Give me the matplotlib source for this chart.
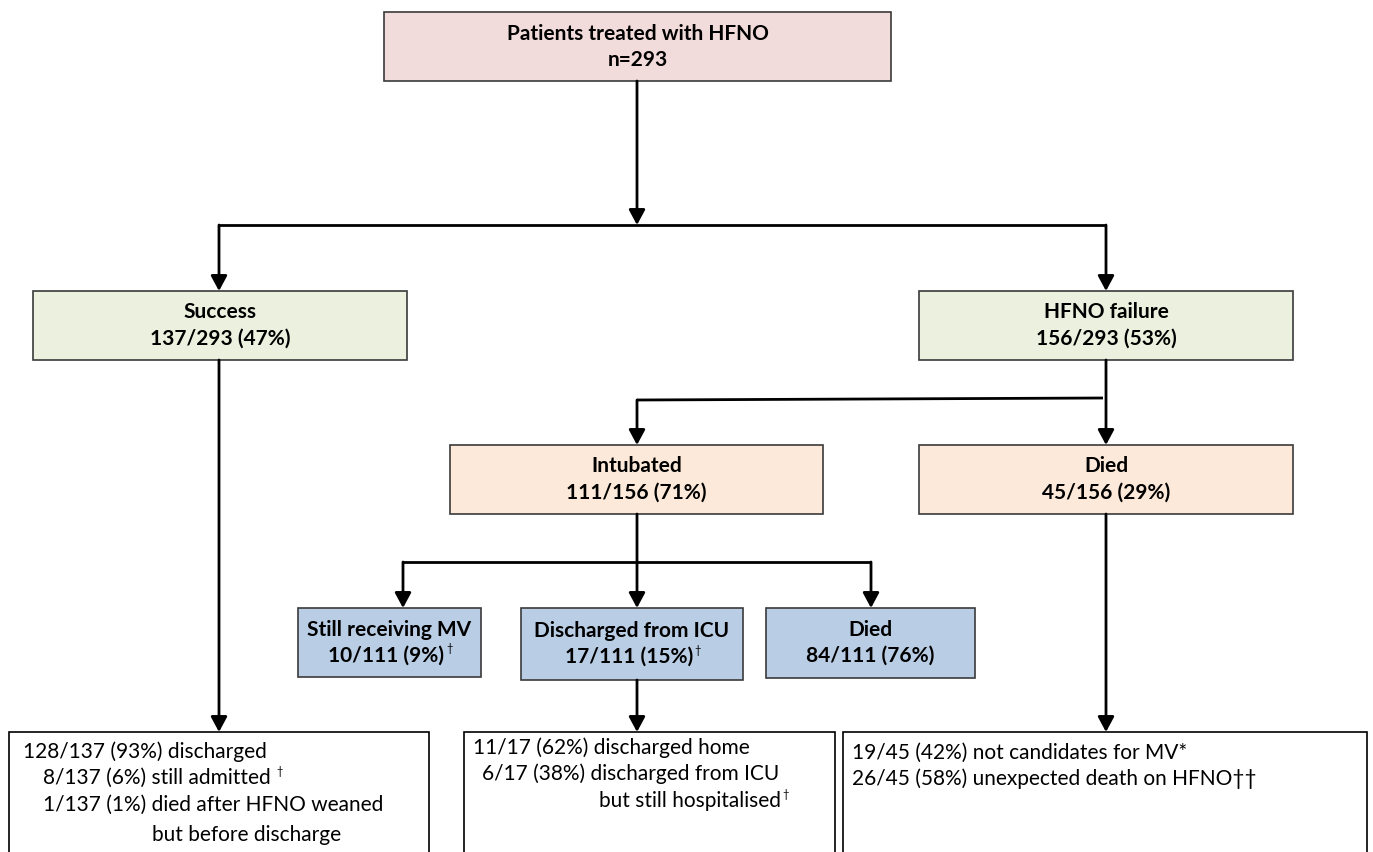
import matplotlib.pyplot as plt
from matplotlib.patches import Rectangle

plt.rcParams['font.family'] = ['Lato', 'DejaVu Sans']

# Data: flowchart node texts
node_titles = ["Patients treated with HFNO", "Success", "HFNO failure", "Intubated", "Died",
               "Still receiving MV", "Discharged from ICU", "Died"]
node_counts = ["n=293", "137/293 (47%)", "156/293 (53%)", "111/156 (71%)", "45/156 (29%)",
               "10/111 (9%)", "17/111 (15%)", "84/111 (76%)"]
node_dagger = [False, False, False, False, False, True, True, False]

success_lines = ["128/137 (93%) discharged", "8/137 (6%) still admitted",
                 "1/137 (1%) died after HFNO weaned", "but before discharge"]
success_dagger = [False, True, False, False]
icu_lines = ["11/17 (62%) discharged home", "6/17 (38%) discharged from ICU",
             "but still hospitalised"]
icu_dagger = [False, False, True]
died_lines = ["19/45 (42%) not candidates for MV*", "26/45 (58%) unexpected death on HFNO\u2020\u2020"]

# Layout (pixel coordinates, y downwards)
W, H = 1373, 852
boxes = [(384, 12, 891, 81), (33, 291, 407, 360), (919, 291, 1293, 360),
         (450, 445, 823, 514), (919, 445, 1293, 514),
         (298, 608, 481, 677), (521, 608, 743, 680), (766, 608, 975, 678)]
fills = ["#F2DCDB", "#EBF1DE", "#EBF1DE", "#FDE9D9", "#FDE9D9",
         "#B9CDE5", "#B9CDE5", "#B9CDE5"]

fig = plt.figure(figsize=(W / 100, H / 100), dpi=100)
ax = fig.add_axes([0, 0, 1, 1])
ax.set_xlim(0, W)
ax.set_ylim(H, 0)
ax.axis("off")

for (x0, y0, x1, y1), fc, title, count, dag in zip(boxes, fills, node_titles, node_counts, node_dagger):
    ax.add_patch(Rectangle((x0, y0), x1 - x0, y1 - y0, facecolor=fc, edgecolor="#3a3a3a", lw=1.2))
    cx, cy = (x0 + x1) / 2, (y0 + y1) / 2
    ax.text(cx, cy - 13, title, ha="center", va="center", fontsize=15, fontweight="bold")
    t = ax.text(cx - (3 if dag else 0), cy + 13, count, ha="center", va="center",
                fontsize=15, fontweight="bold")
    if dag:
        ax.annotate("\u2020", xy=(1, 0.55), xycoords=t, xytext=(1, 0), textcoords="offset points",
                    fontsize=8, va="bottom", ha="left")

# Bottom outcome boxes
bottom = [(9, 732, 429, 870), (464, 732, 835, 870), (843, 732, 1367, 870)]
for x0, y0, x1, y1 in bottom:
    ax.add_patch(Rectangle((x0, y0), x1 - x0, y1 - y0, facecolor="white", edgecolor="black", lw=1.2))


def write_lines(lines, xs, ys, daggers):
    for s, x, y, d in zip(lines, xs, ys, daggers):
        t = ax.text(x, y, s, ha="left", va="center", fontsize=15)
        if d:
            ax.annotate("\u2020", xy=(1, 0.55), xycoords=t, xytext=(4 if s.endswith("admitted") else 1, 0),
                        textcoords="offset points", fontsize=8, va="bottom", ha="left")


write_lines(success_lines, [23, 43, 43, 152], [752, 778, 805, 835], success_dagger)
write_lines(icu_lines, [473, 482, 599], [748, 774, 801], icu_dagger)
write_lines(died_lines, [852, 852], [753, 779], [False, False])


# Connectors
def line(xs, ys):
    ax.plot(xs, ys, color="black", lw=2, solid_capstyle="butt", solid_joinstyle="miter")


def arrow(x, y0, y1):
    ax.annotate("", xy=(x, y1), xytext=(x, y0),
                arrowprops=dict(arrowstyle="-|>,head_length=0.65,head_width=0.35", mutation_scale=14,
                                lw=2, color="black", shrinkA=0, shrinkB=0))


arrow(637, 81, 225)
line([219, 1106], [225, 225])
arrow(219, 225, 291)
arrow(1106, 225, 291)
arrow(219, 360, 732)
arrow(1106, 360, 445)
line([637, 1103], [400, 398])
arrow(637, 400, 445)
arrow(1106, 514, 732)
arrow(637, 514, 608)
line([403, 871], [562, 562])
arrow(403, 562, 608)
arrow(871, 562, 608)
arrow(637, 680, 732)

fig.savefig("out.png", dpi=100)
